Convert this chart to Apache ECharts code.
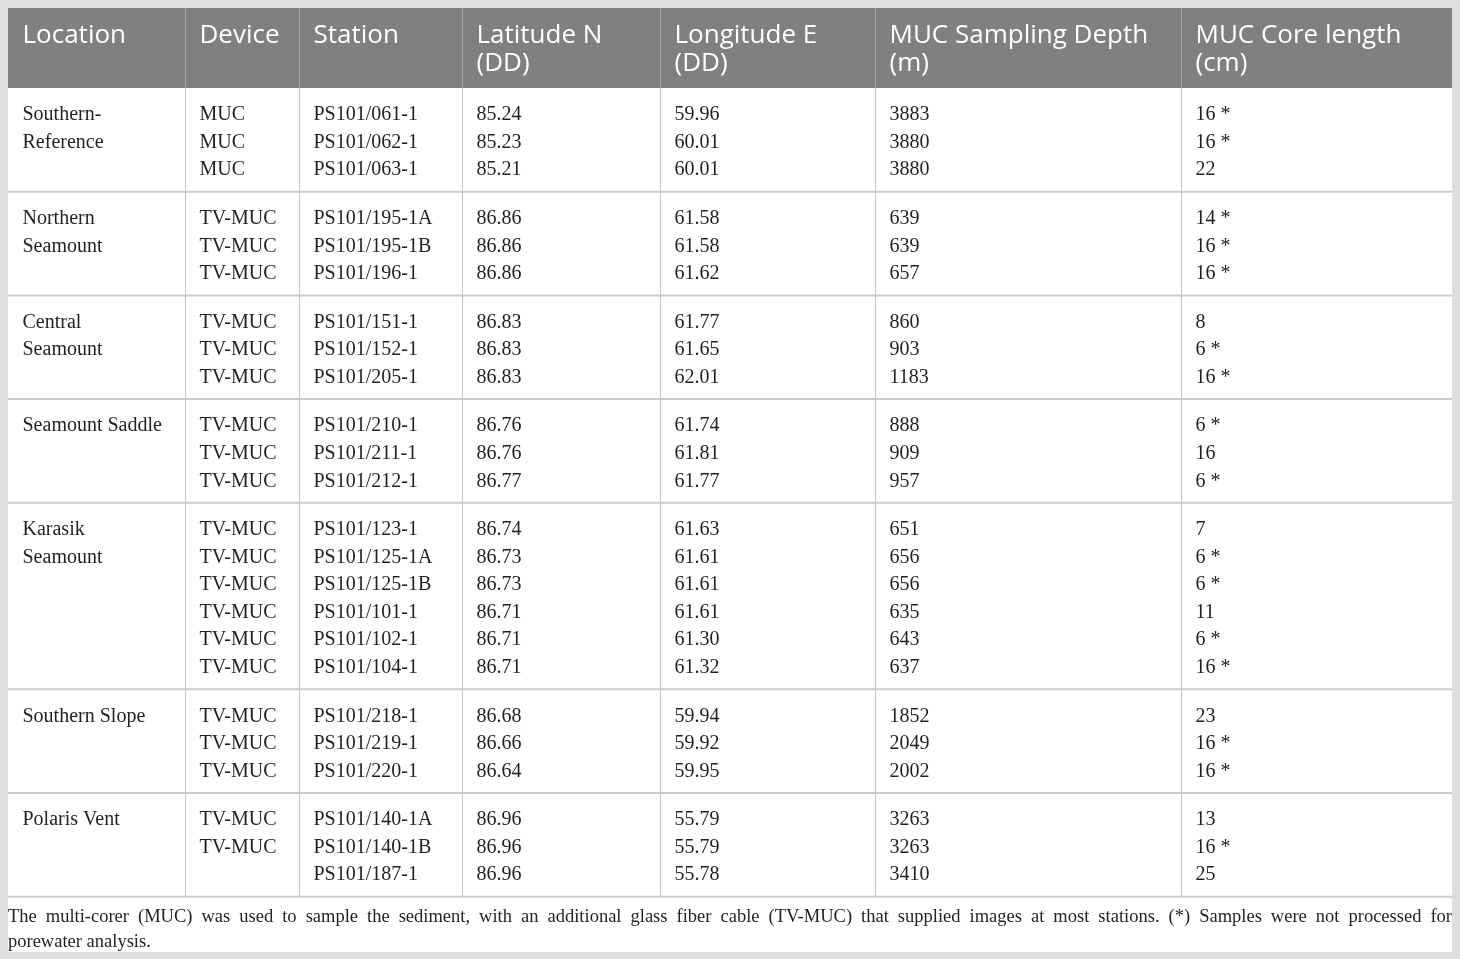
<!DOCTYPE html>
<html>
<head>
<meta charset="utf-8">
<script src="https://cdn.jsdelivr.net/npm/echarts@6/dist/echarts.min.js"></script>
<style>
html,body{margin:0;padding:0;background:#dcdedf;}
#chart{width:1460px;height:959px;}
</style>
</head>
<body>
<div id="chart"></div>
<script>
// ---------- DATA ----------
const headers = ["Location", "Device", "Station", "Latitude N\n(DD)", "Longitude E\n(DD)", "MUC Sampling Depth\n(m)", "MUC Core length\n(cm)"];
const locations = ["Southern-\nReference", "Northern\nSeamount", "Central\nSeamount", "Seamount Saddle", "Karasik\nSeamount", "Southern Slope", "Polaris Vent"];
const groupSizes = [3, 3, 3, 3, 6, 3, 3];
const devices = ["MUC", "MUC", "MUC",
  "TV-MUC", "TV-MUC", "TV-MUC",
  "TV-MUC", "TV-MUC", "TV-MUC",
  "TV-MUC", "TV-MUC", "TV-MUC",
  "TV-MUC", "TV-MUC", "TV-MUC", "TV-MUC", "TV-MUC", "TV-MUC",
  "TV-MUC", "TV-MUC", "TV-MUC",
  "TV-MUC", "TV-MUC", ""];
const stations = ["PS101/061-1", "PS101/062-1", "PS101/063-1",
  "PS101/195-1A", "PS101/195-1B", "PS101/196-1",
  "PS101/151-1", "PS101/152-1", "PS101/205-1",
  "PS101/210-1", "PS101/211-1", "PS101/212-1",
  "PS101/123-1", "PS101/125-1A", "PS101/125-1B", "PS101/101-1", "PS101/102-1", "PS101/104-1",
  "PS101/218-1", "PS101/219-1", "PS101/220-1",
  "PS101/140-1A", "PS101/140-1B", "PS101/187-1"];
const latitudes = [85.24, 85.23, 85.21,
  86.86, 86.86, 86.86,
  86.83, 86.83, 86.83,
  86.76, 86.76, 86.77,
  86.74, 86.73, 86.73, 86.71, 86.71, 86.71,
  86.68, 86.66, 86.64,
  86.96, 86.96, 86.96];
const longitudes = [59.96, 60.01, 60.01,
  61.58, 61.58, 61.62,
  61.77, 61.65, 62.01,
  61.74, 61.81, 61.77,
  61.63, 61.61, 61.61, 61.61, 61.30, 61.32,
  59.94, 59.92, 59.95,
  55.79, 55.79, 55.78];
const depths = [3883, 3880, 3880,
  639, 639, 657,
  860, 903, 1183,
  888, 909, 957,
  651, 656, 656, 635, 643, 637,
  1852, 2049, 2002,
  3263, 3263, 3410];
const coreLengths = [16, 16, 22,
  14, 16, 16,
  8, 6, 16,
  6, 16, 6,
  7, 6, 6, 11, 6, 16,
  23, 16, 16,
  13, 16, 25];
const notProcessed = [1, 1, 0,
  1, 1, 1,
  0, 1, 1,
  1, 0, 1,
  0, 1, 1, 0, 1, 1,
  0, 1, 1,
  0, 1, 0];
const footerLines = [
  "The multi-corer (MUC) was used to sample the sediment, with an additional glass fiber cable (TV-MUC) that supplied images at most stations. (*) Samples were not processed for",
  "porewater analysis."
];

// ---------- LAYOUT ----------
const W = 1460, H = 959;
const tableLeft = 8, tableRight = 1452, tableTop = 8, headerBottom = 88, pageBottom = 952;
const colEdges = [8, 185, 299, 462, 660, 875, 1181, 1452];
const textPad = 14.5;
const headerLineY = [36, 64];
const linePitch = 27.6, firstLineOffset = 27, lastLineGap = 21.5;
const footerY = [917, 942];

const headerFont = "26px 'Open Sans', 'Noto Sans', sans-serif";
const bodyFont = "20px 'Liberation Serif', 'DejaVu Serif', serif";
const footerFont = "18.5px 'Liberation Serif', 'DejaVu Serif', serif";
const bodyColor = "#231f20";

// build shapes and texts
const shapes = [];
const texts = [];
shapes.push({kind: 'rect', x1: tableLeft, y1: tableTop, x2: tableRight, y2: pageBottom, color: '#ffffff'});
shapes.push({kind: 'rect', x1: tableLeft, y1: tableTop, x2: tableRight, y2: headerBottom, color: '#808080'});

// header texts
headers.forEach((h, c) => {
  h.split("\n").forEach((line, k) => {
    texts.push({x: colEdges[c] + textPad, y: headerLineY[k], text: line, font: headerFont, color: '#ffffff'});
  });
});
// header column separators
for (let c = 1; c < colEdges.length - 1; c++) {
  shapes.push({kind: 'line', x1: colEdges[c] + 0.5, y1: tableTop, x2: colEdges[c] + 0.5, y2: headerBottom, color: '#a9a9a9', width: 1});
}

// body
let y = headerBottom;
let row = 0;
groupSizes.forEach((n, g) => {
  const start = y;
  const end = start + firstLineOffset + (n - 1) * linePitch + lastLineGap;
  locations[g].split("\n").forEach((line, k) => {
    texts.push({x: colEdges[0] + textPad, y: start + firstLineOffset + k * linePitch, text: line, font: bodyFont, color: bodyColor});
  });
  for (let k = 0; k < n; k++) {
    const r = row + k;
    const ly = start + firstLineOffset + k * linePitch;
    const cells = [
      devices[r],
      stations[r],
      latitudes[r].toFixed(2),
      longitudes[r].toFixed(2),
      String(depths[r]),
      coreLengths[r] + (notProcessed[r] ? " *" : "")
    ];
    cells.forEach((t, ci) => {
      if (t) texts.push({x: colEdges[ci + 1] + textPad, y: ly, text: t, font: bodyFont, color: bodyColor});
    });
  }
  for (let c = 1; c < colEdges.length - 1; c++) {
    shapes.push({kind: 'line', x1: colEdges[c] + 0.5, y1: start, x2: colEdges[c] + 0.5, y2: end, color: '#c4c4c4', width: 1});
  }
  shapes.push({kind: 'line', x1: tableLeft, y1: end, x2: tableRight, y2: end, color: '#cccccc', width: 2});
  row += n;
  y = end;
});

// footer justified
const measureCtx = document.createElement('canvas').getContext('2d');
measureCtx.font = footerFont;
footerLines.forEach((line, k) => {
  const words = line.split(' ');
  if (k < footerLines.length - 1 && words.length > 1) {
    const widths = words.map(w => measureCtx.measureText(w).width);
    const sum = widths.reduce((a, b) => a + b, 0);
    const gap = (tableRight - tableLeft - sum) / (words.length - 1);
    let x = tableLeft;
    words.forEach((w, i) => {
      texts.push({x: x, y: footerY[k], text: w, font: footerFont, color: bodyColor});
      x += widths[i] + gap;
    });
  } else {
    texts.push({x: tableLeft, y: footerY[k], text: line, font: footerFont, color: bodyColor});
  }
});

// ---------- CHART ----------
const chart = echarts.init(document.getElementById('chart'), null, {renderer: 'canvas'});
chart.setOption({
  backgroundColor: '#dcdedf',
  animation: false,
  grid: {left: 0, right: 0, top: 0, bottom: 0},
  xAxis: {type: 'value', min: 0, max: W, show: false},
  yAxis: {type: 'value', min: 0, max: H, inverse: true, show: false},
  series: [
    {
      type: 'custom',
      silent: true,
      clip: false,
      data: shapes.map((s, i) => [s.x1, s.y1, i]),
      renderItem: function (params, api) {
        const s = shapes[api.value(2)];
        const p1 = api.coord([s.x1, s.y1]);
        const p2 = api.coord([s.x2, s.y2]);
        if (s.kind === 'rect') {
          return {type: 'rect', shape: {x: p1[0], y: p1[1], width: p2[0] - p1[0], height: p2[1] - p1[1]}, style: {fill: s.color}};
        }
        return {type: 'line', shape: {x1: p1[0], y1: p1[1], x2: p2[0], y2: p2[1]}, style: {stroke: s.color, lineWidth: s.width}};
      }
    },
    {
      type: 'custom',
      silent: true,
      clip: false,
      data: texts.map((t, i) => [t.x, t.y, i]),
      renderItem: function (params, api) {
        const t = texts[api.value(2)];
        const p = api.coord([t.x, t.y]);
        return {type: 'text', x: p[0], y: p[1], style: {text: t.text, font: t.font, fill: t.color, align: 'left', verticalAlign: 'middle'}};
      }
    }
  ]
});
</script>
</body>
</html>
